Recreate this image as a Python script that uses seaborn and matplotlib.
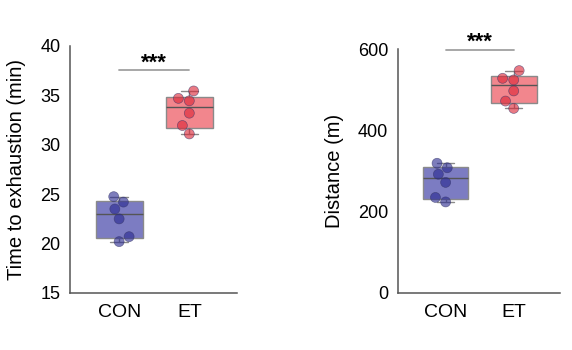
import numpy as np
import pandas as pd
import matplotlib
matplotlib.use("Agg")
import matplotlib.pyplot as plt
import seaborn as sns

# 数据
groups = ["CON", "ET"]
time_con = [24.75, 24.2, 23.5, 22.5, 20.7, 20.2]
time_et = [35.45, 34.7, 34.45, 33.2, 31.95, 31.1]
dist_con = [319, 308, 292, 272, 235, 224]
dist_et = [547, 528, 524, 497, 472, 454]

time_ticks = [15, 20, 25, 30, 35, 40]
dist_ticks = [0, 200, 400, 600]

box_colors = {"CON": "#7c7cc2", "ET": "#f2868d"}
point_colors = {"CON": "#26268f", "ET": "#dc2233"}


def box_stats(values, label):
    """GraphPad 风格的四分位数 (n+1 方法)"""
    v = np.asarray(values, dtype=float)
    q1, med, q3 = np.percentile(v, [25, 50, 75], method="weibull")
    return dict(label=label, med=med, q1=q1, q3=q3, whislo=v.min(), whishi=v.max(), fliers=[])


def draw_panel(ax, con, et, ylabel, ticks):
    df = pd.DataFrame({"group": ["CON"] * len(con) + ["ET"] * len(et), "value": con + et})

    stats = [box_stats(con, "CON"), box_stats(et, "ET")]
    bp = ax.bxp(stats, positions=[0, 1], widths=0.67, patch_artist=True, showfliers=False,
                boxprops=dict(edgecolor="#8a8a8a", linewidth=1.0),
                whiskerprops=dict(color="#8a8a8a", linewidth=1.0),
                capprops=dict(color="#8a8a8a", linewidth=1.0),
                medianprops=dict(color="#555555", linewidth=1.0),
                capwidths=0.25, zorder=2)
    for patch, g in zip(bp["boxes"], groups):
        patch.set_facecolor(box_colors[g])

    sns.swarmplot(data=df, x="group", y="value", hue="group", order=groups, palette=point_colors,
                  size=7.2, alpha=0.6, edgecolor="#333366", linewidth=0.5, legend=False, ax=ax, zorder=3)

    ax.set_xlim(-0.7, 1.68)
    ax.set_ylim(ticks[0], ticks[-1])
    ax.set_yticks(ticks)
    ax.set_xticks([0, 1])
    ax.set_xticklabels(groups, fontsize=14)
    ax.tick_params(axis="y", labelsize=13, length=5, width=1, color="#555555", labelcolor="black", pad=2)
    ax.tick_params(axis="x", length=5, width=1, color="#555555", labelcolor="black", pad=3)
    ax.set_xlabel("")
    ax.set_ylabel(ylabel, fontsize=14.5, labelpad=10, color="black")
    for side in ["top", "right"]:
        ax.spines[side].set_visible(False)
    for side in ["left", "bottom"]:
        ax.spines[side].set_color("#555555")
        ax.spines[side].set_linewidth(1.1)

    # 显著性标记
    span = ticks[-1] - ticks[0]
    y_line = max(max(con), max(et)) + 0.084 * span
    ax.plot([0, 1], [y_line, y_line], color="#a0a0a0", linewidth=1.3, clip_on=False)
    ax.text(0.5, y_line + 0.008 * span, "***", ha="center", va="baseline", fontsize=16,
            fontweight="bold", color="black", clip_on=False)


def main():
    sns.set_theme(style="white")
    plt.rcParams["font.family"] = ["Liberation Sans", "DejaVu Sans"]

    fig = plt.figure(figsize=(5.72, 3.5), dpi=100)
    ax1 = fig.add_axes([0.1224, 0.1629, 0.292, 0.7057])
    ax2 = fig.add_axes([0.6958, 0.1629, 0.2832, 0.697])

    draw_panel(ax1, time_con, time_et, "Time to exhaustion (min)", time_ticks)
    draw_panel(ax2, dist_con, dist_et, "Distance (m)", dist_ticks)

    fig.savefig("out.png", dpi=100)
    plt.close(fig)


if __name__ == "__main__":
    main()
